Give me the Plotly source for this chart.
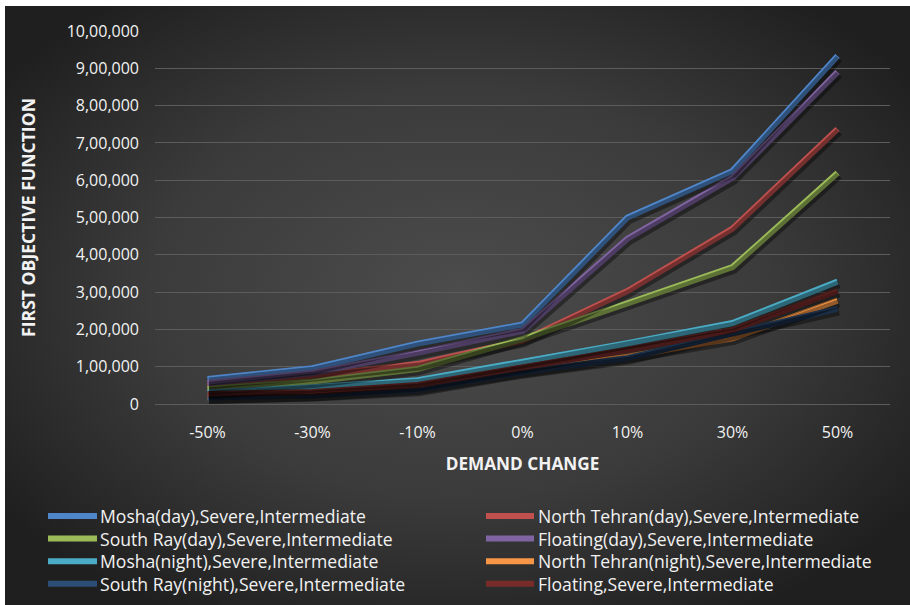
import base64
import plotly.graph_objects as go

# Demand-change scenarios on the category axis
demand_change = ["-50%", "-30%", "-10%", "0%", "10%", "30%", "50%"]

# First objective function value per scenario
mosha_day = [67000, 96000, 162000, 213000, 500000, 625000, 933000]
north_tehran_day = [48000, 75000, 107000, 170000, 303000, 470000, 737000]
south_ray_day = [41000, 60000, 94000, 174000, 270000, 367000, 619000]
floating_day = [56000, 83000, 137000, 196000, 443000, 606000, 890000]
mosha_night = [31000, 45000, 64000, 113000, 163000, 217000, 328000]
north_tehran_night = [18000, 25000, 42000, 88000, 127000, 176000, 277000]
south_ray_night = [17000, 24000, 38000, 86000, 123000, 188000, 255000]
floating = [27000, 32000, 51000, 99000, 145000, 198000, 303000]

series_names = [
    "Mosha(day),Severe,Intermediate",
    "North Tehran(day),Severe,Intermediate",
    "South Ray(day),Severe,Intermediate",
    "Floating(day),Severe,Intermediate",
    "Mosha(night),Severe,Intermediate",
    "North Tehran(night),Severe,Intermediate",
    "South Ray(night),Severe,Intermediate",
    "Floating,Severe,Intermediate",
]
series_values = [
    mosha_day, north_tehran_day, south_ray_day, floating_day,
    mosha_night, north_tehran_night, south_ray_night, floating,
]
series_colors = [
    "#4F86C9", "#C0504D", "#9BBB59", "#8064A2",
    "#4BACC6", "#F79646", "#2C4D75", "#772C2A",
]

y_ticks = list(range(0, 1000001, 100000))


def indian_format(n):
    s = str(int(n))
    if len(s) <= 3:
        return s
    head, tail = s[:-3], s[-3:]
    groups = []
    while len(head) > 2:
        groups.insert(0, head[-2:])
        head = head[:-2]
    if head:
        groups.insert(0, head)
    return ",".join(groups + [tail])


y_tick_text = [indian_format(v) for v in y_ticks]

W, H = 910, 605
ML, MR, MT, MB = 155, 20, 31, 201
plot_w = W - ML - MR
plot_h = H - MT - MB
Y_MAX = 1000000


def px_x(px):
    return (px - ML) / plot_w


def px_y(py):
    return (H - MB - py) / plot_h


# Dark radial-gradient backdrop for the chart card
svg = (
    '<svg xmlns="http://www.w3.org/2000/svg" width="905" height="599">'
    '<defs><radialGradient id="g" cx="50%" cy="48%" r="62%">'
    '<stop offset="0%" stop-color="#4c4c4c"/>'
    '<stop offset="55%" stop-color="#3b3b3b"/>'
    '<stop offset="100%" stop-color="#1f1f1f"/>'
    '</radialGradient></defs>'
    '<rect width="905" height="599" fill="url(#g)"/></svg>'
)
bg_src = "data:image/svg+xml;base64," + base64.b64encode(svg.encode()).decode()
card_left, card_top = 5, 6

font_family = "'Open Sans', Lato, sans-serif"
text_color = "#F2F2F2"
grid_color = "#5C5C5C"

# Drop shadow: same series on an overlay axis nudged a couple of pixels down/right
shadow_dx, shadow_dy = 1.5, 2.5
cat_per_px = 7 / plot_w
val_per_px = Y_MAX / plot_h

fig = go.Figure()
for vals in series_values:
    fig.add_trace(go.Scatter(
        x=demand_change, y=vals, mode="lines", xaxis="x2", yaxis="y2",
        line=dict(color="rgba(0,0,0,0.4)", width=8),
        hoverinfo="skip", showlegend=False,
    ))
for name, vals, color in zip(series_names, series_values, series_colors):
    fig.add_trace(go.Scatter(
        x=demand_change, y=vals, name=name, mode="lines",
        line=dict(color=color, width=6), showlegend=False,
    ))

# Two-column legend drawn below the axes
legend_rows_y = [516, 538.6, 561.2, 583.8]
legend_cols = [(48, 97, 98), (486, 534, 536)]
shapes = []
annotations = []
for i, (name, color) in enumerate(zip(series_names, series_colors)):
    row, col = divmod(i, 2)
    x0, x1, tx = legend_cols[col]
    yc = legend_rows_y[row]
    shapes.append(dict(
        type="line", xref="paper", yref="paper",
        x0=px_x(x0), x1=px_x(x1), y0=px_y(yc), y1=px_y(yc),
        line=dict(color=color, width=6),
    ))
    annotations.append(dict(
        text=name, xref="paper", yref="paper", x=px_x(tx), y=px_y(yc),
        xanchor="left", yanchor="middle", showarrow=False,
        font=dict(size=17.6, color=text_color, family=font_family),
    ))

fig.update_layout(
    width=W, height=H,
    margin=dict(l=ML, r=MR, t=MT, b=MB, autoexpand=False),
    paper_bgcolor="white",
    plot_bgcolor="rgba(0,0,0,0)",
    font=dict(family=font_family, color=text_color, size=16),
    showlegend=False,
    shapes=shapes,
    annotations=annotations,
    images=[dict(
        source=bg_src, xref="paper", yref="paper",
        x=px_x(card_left), y=px_y(card_top),
        sizex=(W - card_left) / plot_w, sizey=(H - card_top) / plot_h,
        xanchor="left", yanchor="top", sizing="stretch", layer="below",
    )],
    xaxis2=dict(
        type="category", overlaying="x", visible=False,
        range=[-0.5 - shadow_dx * cat_per_px, 6.5 - shadow_dx * cat_per_px],
    ),
    yaxis2=dict(
        overlaying="y", visible=False,
        range=[shadow_dy * val_per_px, Y_MAX + shadow_dy * val_per_px],
    ),
    xaxis=dict(
        type="category", range=[-0.5, 6.5],
        showgrid=False, showline=False, zeroline=False,
        ticks="", ticklabelstandoff=17,
        tickfont=dict(size=16, color=text_color),
        title=dict(text="<b>DEMAND CHANGE</b>", font=dict(size=17.2, color=text_color), standoff=15),
    ),
    yaxis=dict(
        range=[0, Y_MAX], tickvals=y_ticks, ticktext=y_tick_text,
        showgrid=True, gridcolor=grid_color, gridwidth=1,
        zeroline=True, zerolinecolor=grid_color, zerolinewidth=1,
        showline=False, ticks="", ticklabelstandoff=15,
        tickfont=dict(size=16, color=text_color),
        title=dict(text="<b>FIRST OBJECTIVE FUNCTION</b>", font=dict(size=17.6, color=text_color), standoff=26),
    ),
)

fig.write_html("out.html")
